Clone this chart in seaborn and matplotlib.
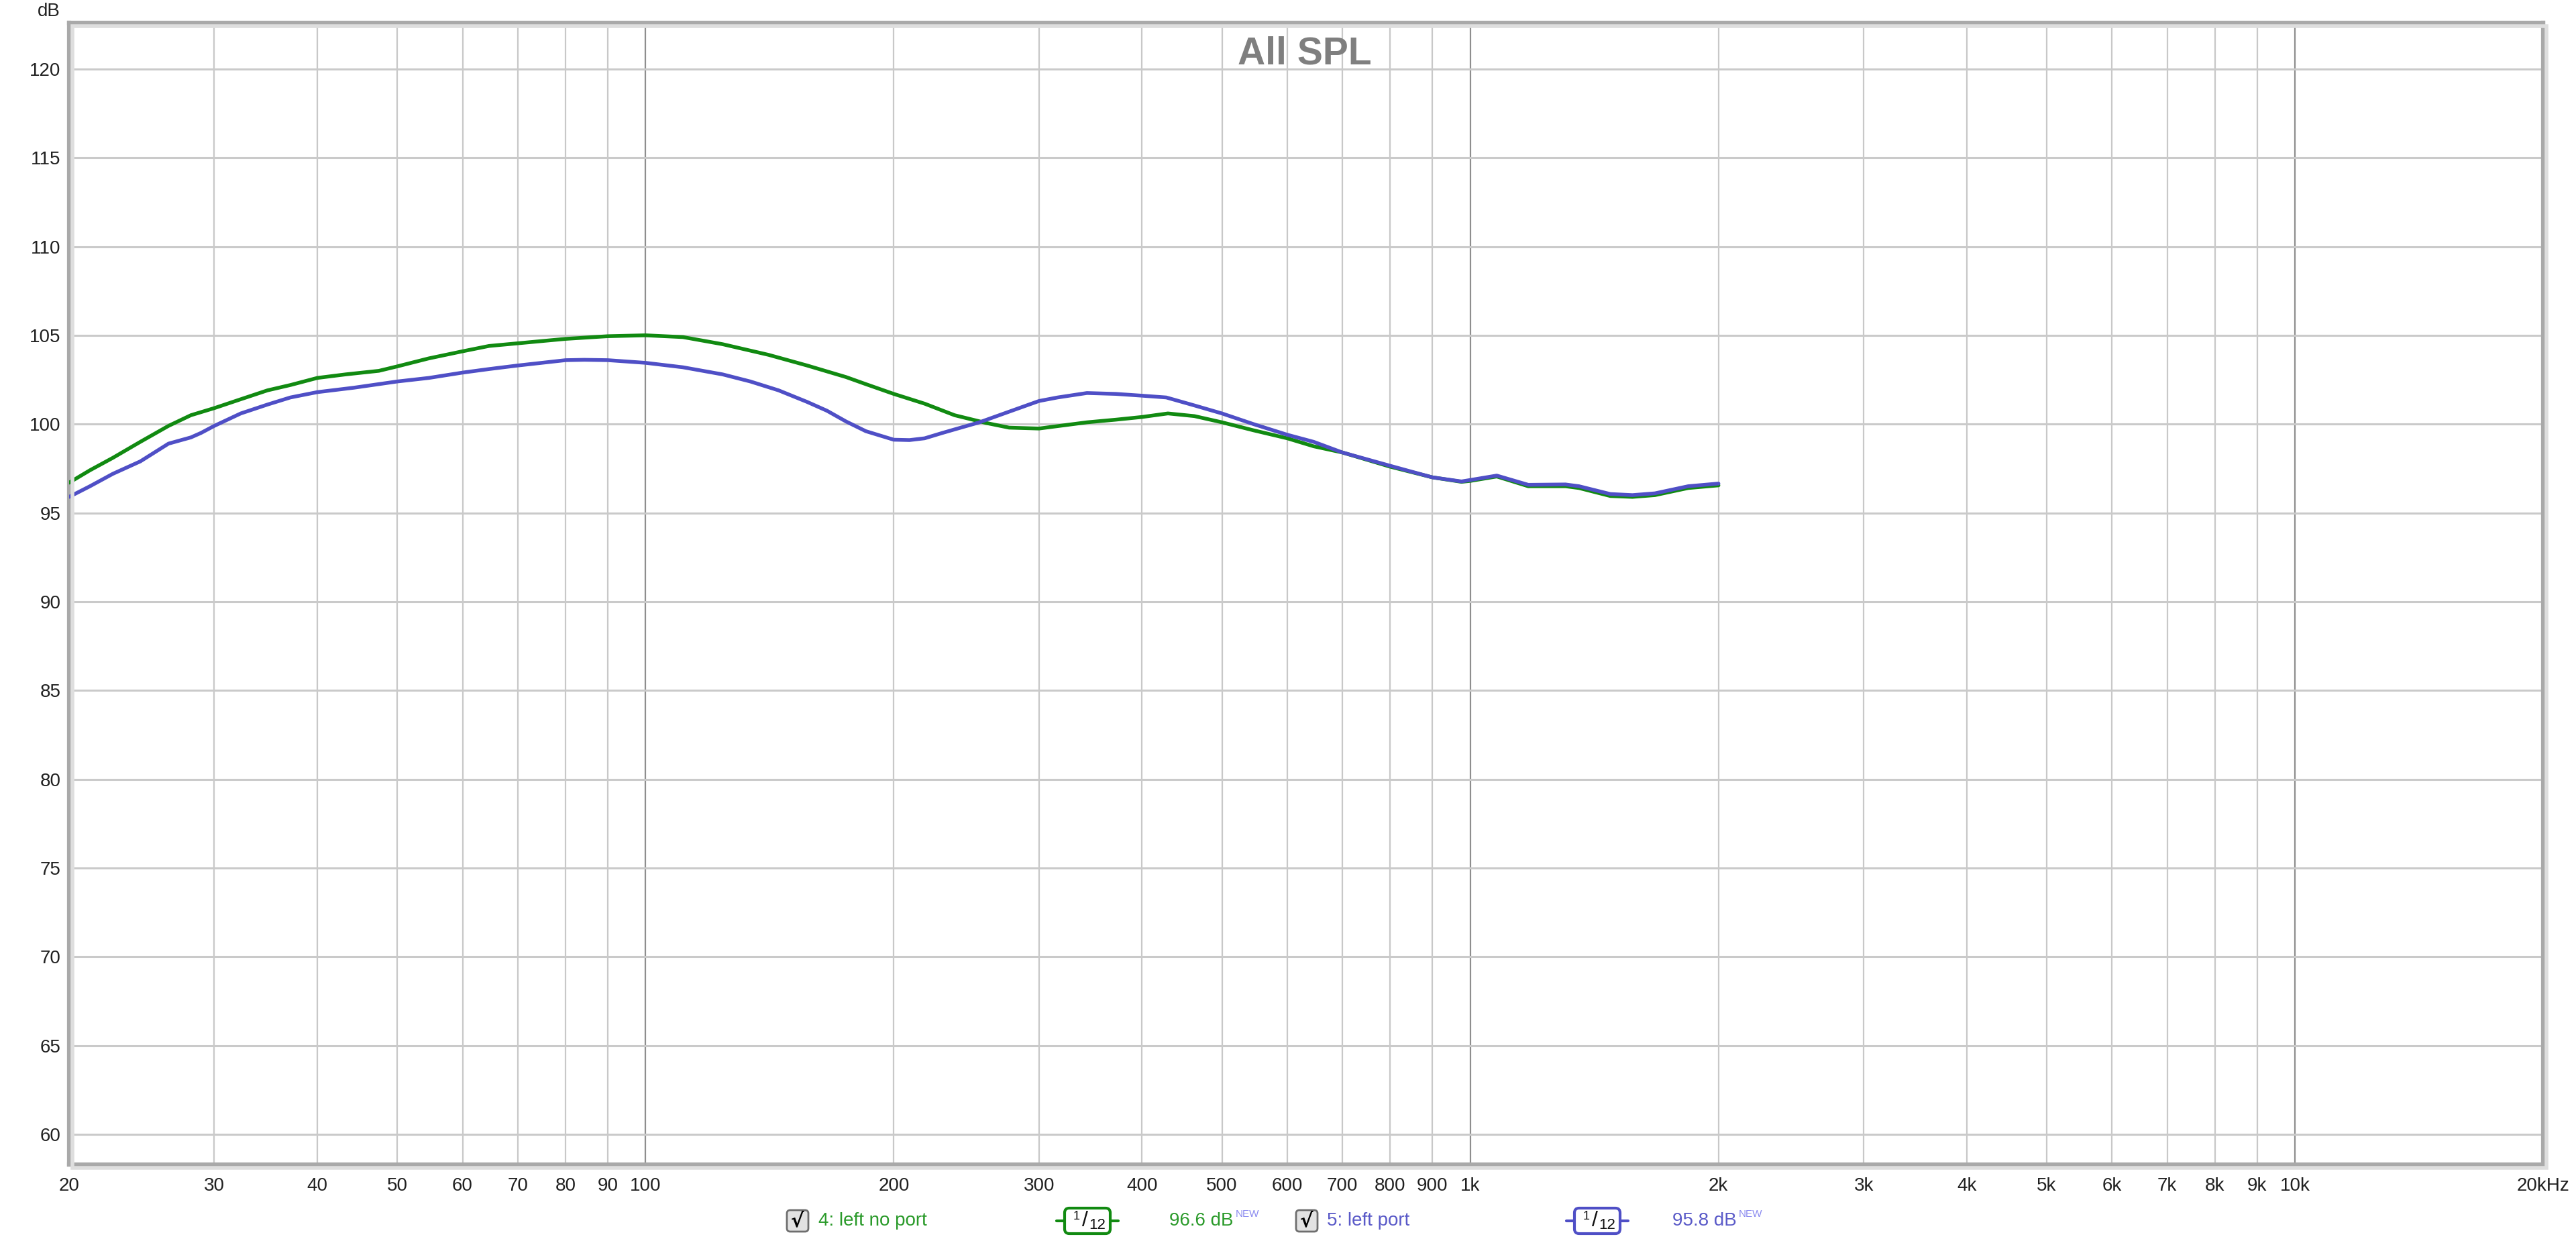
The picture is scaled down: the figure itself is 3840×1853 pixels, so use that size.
import numpy as np
import pandas as pd
import matplotlib
matplotlib.use("Agg")
import matplotlib.pyplot as plt
from matplotlib.patches import FancyBboxPatch, Rectangle
from matplotlib.ticker import FixedLocator, NullLocator
import seaborn as sns

# ---------------- data ----------------
freq_noport = [20, 21.2, 22.6, 24.4, 26.4, 28.1, 30, 32.3, 34.8, 37.1, 40, 43.3, 47.5, 50,
               54.6, 60, 64.6, 70, 80, 90, 100, 111, 124, 141, 157, 175, 185, 200, 218,
               237, 259, 276, 300, 343, 372, 400, 430, 463, 500, 546, 600, 646, 700, 800,
               900, 976, 1000, 1077, 1176, 1305, 1355, 1479, 1573, 1675, 1838, 2000]
spl_noport = [96.7, 97.4, 98.1, 99.0, 99.9, 100.5, 100.9, 101.4, 101.9, 102.2, 102.6, 102.8,
              103.0, 103.25, 103.7, 104.1, 104.4, 104.55, 104.8, 104.95, 105.0, 104.9,
              104.5, 103.9, 103.3, 102.65, 102.25, 101.7, 101.15, 100.5, 100.06, 99.8,
              99.75, 100.1, 100.25, 100.4, 100.6, 100.45, 100.1, 99.65, 99.2, 98.75, 98.4,
              97.6, 97.0, 96.75, 96.8, 97.05, 96.5, 96.5, 96.4, 95.95, 95.9, 96.0, 96.4,
              96.55]

freq_port = [20, 21.2, 22.6, 24.4, 26.4, 28.1, 28.9, 30, 32.3, 34.8, 37.1, 40, 44.3, 50,
             54.6, 60, 64.6, 70, 80, 84.3, 90, 100, 111, 124, 134, 145, 157, 166, 175, 185,
             200, 209, 218, 229, 237, 254, 276, 300, 316, 343, 372, 400, 428, 463, 500, 546,
             600, 646, 700, 800, 846, 900, 976, 1000, 1077, 1176, 1305, 1355, 1479, 1573,
             1675, 1838, 2000]
spl_port = [95.9, 96.5, 97.2, 97.9, 98.9, 99.25, 99.5, 99.9, 100.6, 101.1, 101.5, 101.8,
            102.05, 102.4, 102.6, 102.9, 103.1, 103.3, 103.6, 103.62, 103.6, 103.45, 103.2,
            102.8, 102.4, 101.9, 101.25, 100.75, 100.15, 99.6, 99.12, 99.1, 99.2, 99.5,
            99.7, 100.1, 100.7, 101.3, 101.5, 101.75, 101.7, 101.6, 101.5, 101.05, 100.6,
            100.0, 99.4, 99.0, 98.4, 97.65, 97.34, 97.0, 96.77, 96.85, 97.1, 96.58, 96.6,
            96.5, 96.06, 96.0, 96.1, 96.5, 96.65]

series_names = ["4: left no port", "5: left port"]
legend_levels = ["96.6 dB", "95.8 dB"]

x_ticks = [20, 30, 40, 50, 60, 70, 80, 90, 100, 200, 300, 400, 500, 600, 700, 800, 900,
           1000, 2000, 3000, 4000, 5000, 6000, 7000, 8000, 9000, 10000, 20000]
x_labels = ["20", "30", "40", "50", "60", "70", "80", "90", "100", "200", "300", "400",
            "500", "600", "700", "800", "900", "1k", "2k", "3k", "4k", "5k", "6k", "7k",
            "8k", "9k", "10k", "20kHz"]
y_ticks = [60, 65, 70, 75, 80, 85, 90, 95, 100, 105, 110, 115, 120]

GREEN = "#118a11"
BLUE = "#4f4fc6"
GREEN_TXT = "#2a9a2a"
BLUE_TXT = "#5a5ac8"

df = pd.concat([
    pd.DataFrame({"freq": freq_noport, "spl": spl_noport, "series": series_names[0]}),
    pd.DataFrame({"freq": freq_port, "spl": spl_port, "series": series_names[1]}),
], ignore_index=True)

# ---------------- figure ----------------
sns.set_theme(style="white")
plt.rcParams["font.family"] = ["Liberation Sans", "DejaVu Sans"]

W, H = 3840, 1853
fig = plt.figure(figsize=(W / 100, H / 100), dpi=100)
L, R, T, B = 103, 3791, 34, 1736
ax = fig.add_axes([L / W, 1 - B / H, (R - L) / W, (B - T) / H])

ax.set_xscale("log")
ax.set_xlim(20, 20000)
ax.set_ylim(58.3, 122.6)

# grid
for f in x_ticks[1:-1]:
    dec = f in (100, 1000, 10000)
    ax.axvline(f, color="#8e8e8e" if dec else "#c8c8c8", lw=1.6, zorder=1)
for yv in y_ticks:
    ax.axhline(yv, color="#cacaca", lw=2.2, zorder=1)

sns.lineplot(data=df, x="freq", y="spl", hue="series", palette=[GREEN, BLUE],
             hue_order=series_names, legend=False, linewidth=4.0, ax=ax, zorder=3,
             estimator=None, sort=True)

ax.xaxis.set_major_locator(FixedLocator(x_ticks))
ax.xaxis.set_minor_locator(NullLocator())
ax.set_xticklabels(x_labels)
ax.set_yticks(y_ticks)
ax.set_yticklabels([str(v) for v in y_ticks])
ax.tick_params(axis="both", which="both", length=0, labelsize=20, colors="#202020")
ax.tick_params(axis="x", pad=14)
ax.tick_params(axis="y", pad=9)
ax.set_xlabel("")
ax.set_ylabel("")
for s in ax.spines.values():
    s.set_visible(True)
    s.set_color("#a9a9a9")
    s.set_linewidth(4.5)

# ---------------- overlay (pixel coordinates) ----------------
ov = fig.add_axes([0, 0, 1, 1], zorder=5)
ov.set_xlim(0, W)
ov.set_ylim(H, 0)
ov.axis("off")
ov.patch.set_alpha(0)

# soft shadow of the frame
ov.add_patch(Rectangle((L + 5, T + 5), R - L, B - T, fill=False, edgecolor="#dedede",
                       lw=4, zorder=0))

ov.text(1945, 80, "All SPL", ha="center", va="center", fontsize=41,
        fontweight="bold", color="#7f7f7f")
ov.text(90, 17, "dB", ha="right", va="center", fontsize=20, color="#202020")

LY = 1820


def checkbox(x0):
    ov.add_patch(FancyBboxPatch((x0, LY - 16), 32, 32,
                                boxstyle="round,pad=0,rounding_size=5",
                                facecolor="#e2e2e2", edgecolor="#6e6e6e", lw=2))
    ov.text(x0 + 16, LY, "√", ha="center", va="center", fontsize=21,
            fontweight="bold", color="#000000", family="DejaVu Sans")


def smooth_box(x0, color):
    ov.plot([x0 - 10, x0 + 2], [LY, LY], color=color, lw=3)
    ov.plot([x0 + 70, x0 + 82], [LY, LY], color=color, lw=3)
    ov.add_patch(FancyBboxPatch((x0 + 2, LY - 19), 68, 38,
                                boxstyle="round,pad=0,rounding_size=7",
                                facecolor="white", edgecolor=color, lw=3))
    ov.text(x0 + 20, LY - 6, "1", ha="center", va="center", fontsize=13, color="#111111")
    ov.text(x0 + 32, LY, "/", ha="center", va="center", fontsize=23, color="#111111")
    ov.text(x0 + 51, LY + 6, "12", ha="center", va="center", fontsize=16, color="#111111")


def level(x0, txt, color):
    t = ov.text(x0, LY, txt, ha="left", va="center", fontsize=20, color=color)
    ov.text(x0 + 99, LY - 10, "NEW", ha="left", va="center", fontsize=11,
            color="#8c8cf0")
    return t


checkbox(1173)
ov.text(1220, LY, series_names[0], ha="left", va="center", fontsize=20, color=GREEN_TXT)
smooth_box(1585, GREEN)
level(1743, legend_levels[0], GREEN_TXT)

checkbox(1932)
ov.text(1978, LY, series_names[1], ha="left", va="center", fontsize=20, color=BLUE_TXT)
smooth_box(2345, BLUE)
level(2493, legend_levels[1], BLUE_TXT)

fig.savefig("out.png", dpi=100, facecolor="white")
